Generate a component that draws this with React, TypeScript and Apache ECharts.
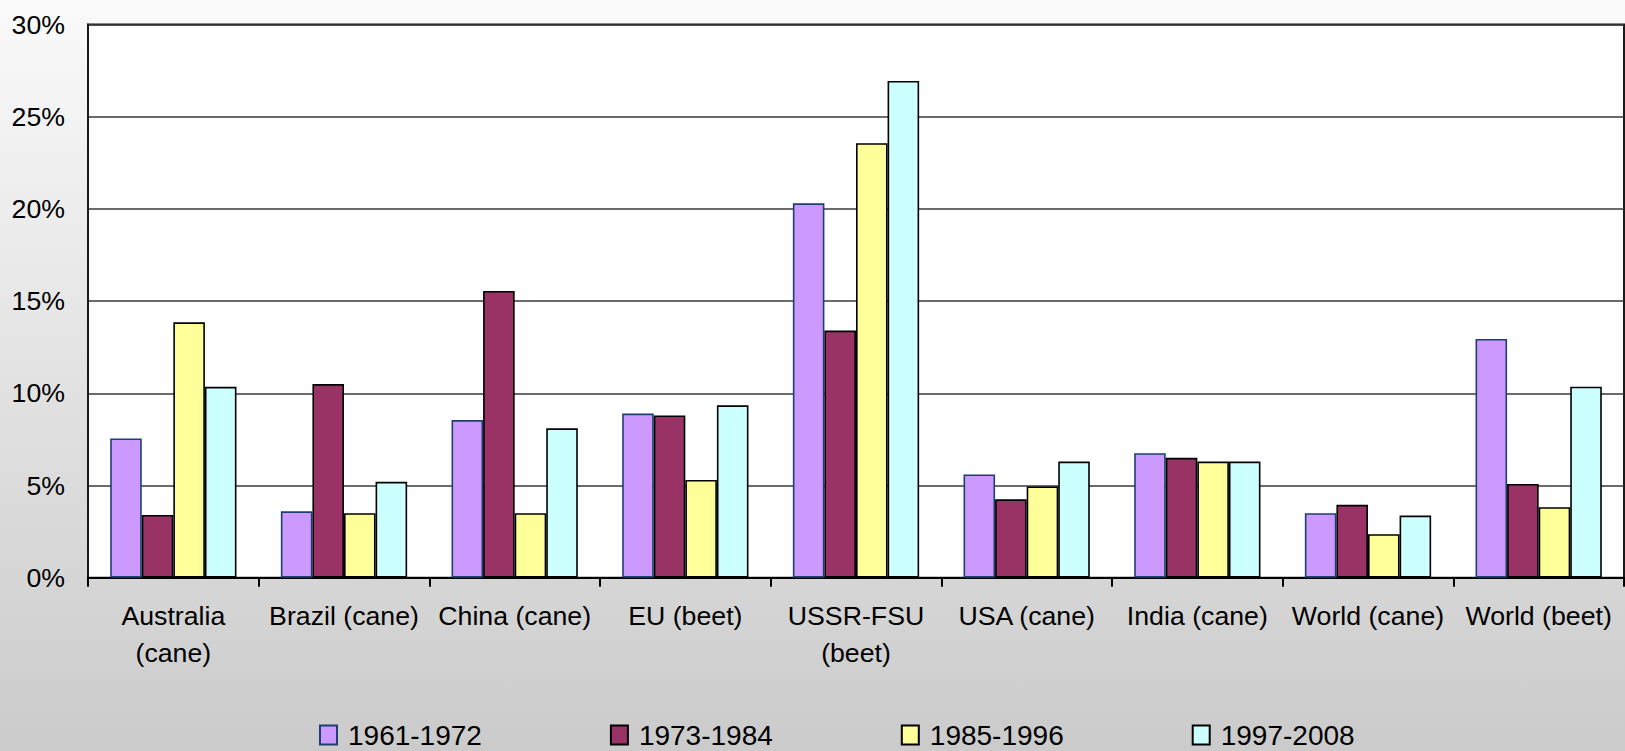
import React, { useEffect, useRef } from "react";
import * as echarts from "echarts";

// Categories and per-period values (percent)
const categories = [
  "Australia\n(cane)",
  "Brazil (cane)",
  "China (cane)",
  "EU (beet)",
  "USSR-FSU\n(beet)",
  "USA (cane)",
  "India (cane)",
  "World (cane)",
  "World (beet)",
];

const periods = ["1961-1972", "1973-1984", "1985-1996", "1997-2008"];

const values1961_1972 = [7.55, 3.6, 8.55, 8.9, 20.3, 5.6, 6.75, 3.5, 12.95];
const values1973_1984 = [3.4, 10.5, 15.55, 8.8, 13.4, 4.25, 6.5, 3.95, 5.08];
const values1985_1996 = [13.85, 3.5, 3.5, 5.3, 23.56, 4.95, 6.3, 2.36, 3.82];
const values1997_2008 = [10.35, 5.2, 8.1, 9.35, 26.94, 6.3, 6.3, 3.37, 10.36];

const yTicks = { min: 0, max: 30, interval: 5 };

const fills = ["#CC99FF", "#993366", "#FFFF99", "#CCFFFF"];
const borders = ["#1F3F6F", "#000000", "#000000", "#000000"];

const FONT = "Arial, 'Liberation Sans', sans-serif";

export default function App() {
  const ref = useRef<HTMLDivElement>(null);

  useEffect(() => {
    if (!ref.current) return;
    const chart = echarts.init(ref.current, null, { renderer: "svg" });
    const seriesData = [values1961_1972, values1973_1984, values1985_1996, values1997_2008];

    chart.setOption({
      animation: false,
      backgroundColor: new echarts.graphic.LinearGradient(0, 0, 0, 1, [
        { offset: 0, color: "#fafafa" },
        { offset: 1, color: "#cbcbcb" },
      ]),
      textStyle: { fontFamily: FONT },
      grid: {
        left: 88,
        right: 1,
        top: 24.5,
        bottom: 173.3,
        show: true,
        backgroundColor: "#ffffff",
        borderColor: "#1a1a1a",
        borderWidth: 2,
      },
      legend: {
        data: periods,
        left: 319,
        top: 721,
        padding: 0,
        itemWidth: 17,
        itemHeight: 19,
        itemGap: 128,
        icon: "rect",
        textStyle: {
          fontSize: 28,
          lineHeight: 22,
          color: "#000",
          fontFamily: FONT,
          padding: [0, 0, 0, 6],
        },
      },
      xAxis: {
        type: "category",
        data: categories,
        axisLine: { show: true, lineStyle: { color: "#000", width: 2 } },
        axisTick: { show: true, length: 9, lineStyle: { color: "#000", width: 2 } },
        axisLabel: {
          interval: 0,
          color: "#000",
          fontSize: 26.7,
          lineHeight: 37,
          margin: 20,
          fontFamily: FONT,
        },
      },
      yAxis: {
        type: "value",
        min: yTicks.min,
        max: yTicks.max,
        interval: yTicks.interval,
        axisLine: { show: true, lineStyle: { color: "#1a1a1a", width: 2 } },
        axisTick: { show: false },
        splitLine: { show: true, lineStyle: { color: "#3a3a3a", width: 1.5 } },
        axisLabel: {
          color: "#000",
          fontSize: 26.7,
          margin: 23,
          fontFamily: FONT,
          formatter: "{value}%",
        },
      },
      series: periods.map((name, i) => ({
        name,
        type: "bar",
        data: seriesData[i],
        barGap: "0%",
        barCategoryGap: "26%",
        itemStyle: {
          color: fills[i],
          borderColor: borders[i],
          borderWidth: 1.6,
        },
      })),
    });

    return () => chart.dispose();
  }, []);

  return (
    <div
      ref={ref}
      style={{ position: "fixed", left: 0, top: 0, width: 1625, height: 751 }}
    />
  );
}
